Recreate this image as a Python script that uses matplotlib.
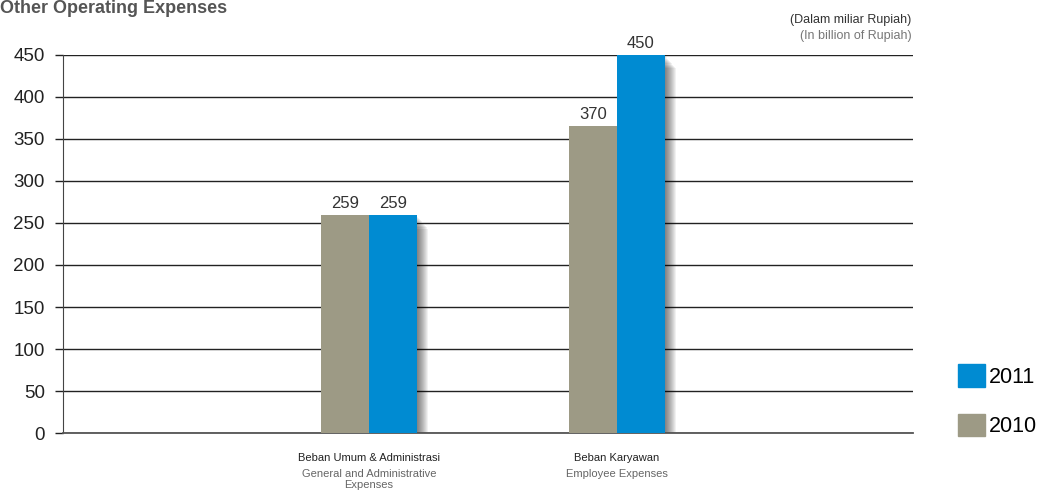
import matplotlib.pyplot as plt
import numpy as np
from matplotlib.patches import Patch

plt.rcParams["font.family"] = ["Liberation Sans", "DejaVu Sans"]

categories_id = ["Beban Umum & Administrasi", "Beban Karyawan"]
categories_en = ["General and Administrative\nExpenses", "Employee Expenses"]
years = ["2010", "2011"]
values_2010 = [259, 365]
values_2011 = [259, 450]
labels_2010 = ["259", "370"]
labels_2011 = ["259", "450"]

COLORS = {"2010": "#9d9a85", "2011": "#008bd2"}

fig = plt.figure(figsize=(10.42, 4.98), dpi=100)
ax = fig.add_axes([0.0605, 0.1305, 0.8155, 0.7591])

x = np.array([1.0, 2.0])
width = 0.194
px_x = 1 / 248.0
px_y = 1 / 0.84

# soft drop shadow to the right of each group
for k in range(1, 12):
    for xi, v1, v2 in zip(x, values_2010, values_2011):
        ax.bar(xi - width + k * px_x, v1 - k * 0.4 * px_y, width, bottom=-k * 0.8 * px_y,
               align="edge", color="black", alpha=0.055, zorder=1, linewidth=0)
        ax.bar(xi + k * px_x, v2 - k * 0.4 * px_y, width, bottom=-k * 0.8 * px_y,
               align="edge", color="black", alpha=0.055, zorder=1, linewidth=0)

b1 = ax.bar(x - width, values_2010, width, align="edge", color=COLORS["2010"], zorder=3, linewidth=0)
b2 = ax.bar(x, values_2011, width, align="edge", color=COLORS["2011"], zorder=3, linewidth=0)

for bars, labels in ((b1, labels_2010), (b2, labels_2011)):
    for bar, lab in zip(bars, labels):
        ax.text(bar.get_x() + bar.get_width() / 2, bar.get_height() + 5, lab,
                ha="center", va="bottom", fontsize=12, color="#333333", zorder=4)

ax.set_xlim(-0.234, 3.194)
ax.set_ylim(0, 450)
ax.set_yticks(np.arange(0, 451, 50))
ax.tick_params(axis="y", length=6, width=1, color="#222222", labelsize=13.5,
               labelcolor="#222222", pad=7)
ax.set_xticks([])
ax.yaxis.grid(True, color="#222222", linewidth=1)
ax.set_axisbelow(True)
for side in ("top", "right"):
    ax.spines[side].set_visible(False)
ax.spines["left"].set_color("#444444")
ax.spines["bottom"].set_color("#555555")
ax.spines["bottom"].set_linewidth(1.3)

for xi, lab_id, lab_en in zip(x, categories_id, categories_en):
    ax.annotate(lab_id, (xi, 0), xytext=(0, -14.5), textcoords="offset points",
                ha="center", va="top", fontsize=8, color="#222222")
    ax.annotate(lab_en, (xi, 0), xytext=(0, -26), textcoords="offset points",
                ha="center", va="top", fontsize=8, color="#666666", linespacing=1.1)

fig.text(0.0, 1.0, "Other Operating Expenses", ha="left", va="top",
         fontsize=13, fontweight="bold", color="#555555")
fig.text(0.875, 0.96, "(Dalam miliar Rupiah)", ha="right", va="center",
         fontsize=9, color="#333333")
fig.text(0.875, 0.927, "(In billion of Rupiah)", ha="right", va="center",
         fontsize=9, color="#777777")

handles = [Patch(color=COLORS["2011"]), Patch(color=COLORS["2010"])]
fig.legend(handles, ["2011", "2010"], loc="lower left", bbox_to_anchor=(0.919, 0.122),
           frameon=False, fontsize=15.5, handlelength=1.25, handleheight=1.25,
           handletextpad=0.2, labelspacing=1.2, borderpad=0, borderaxespad=0)

fig.savefig("out.png", dpi=100)
